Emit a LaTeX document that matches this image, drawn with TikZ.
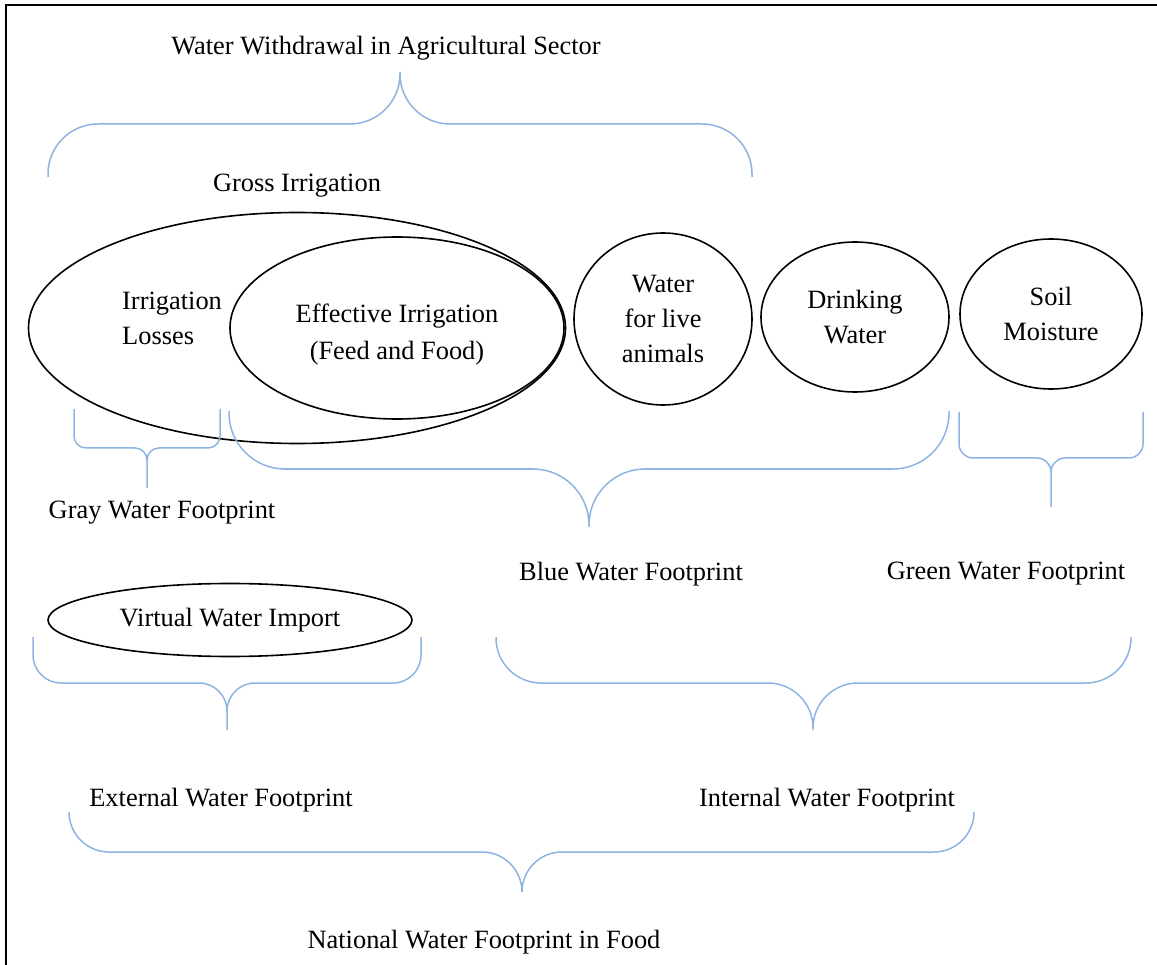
\documentclass[tikz,border=0pt]{standalone}
\usepackage{fontspec}
\setmainfont{Liberation Serif}
\usetikzlibrary{shapes.geometric,positioning}
\definecolor{bracecol}{RGB}{141,180,226}

\begin{document}
\begin{tikzpicture}[x=1pt,y=-1pt,node distance=142pt]
	\tikzstyle{txt} = [font=\fontsize{26.4}{35}\selectfont,inner sep=0pt,align=center]
	\tikzstyle{pool} = [draw,ellipse,line width=1.6pt,txt]
	\tikzstyle{curly} = [draw=bracecol,line width=1.5pt]
	\useasboundingbox (0,0) rectangle (1157,965);
	\draw[line width=2pt] (6,965) -- (6,5) -- (1157,5);

	\node (gross) [pool,minimum width=537pt,minimum height=231pt] at (297,328) {};
	\node (effective) [pool,minimum width=334pt,minimum height=182pt] at (397,328) {};
	\node (effectivetext) [txt,font=\fontsize{26.4}{37}\selectfont] at (397,335) {Effective Irrigation\\(Feed and Food)};
	\node (losses) [txt,anchor=west,align=left] at (122,318) {Irrigation\\Losses};
	\node (grosslabel) [txt,above of=gross] {Gross Irrigation};
	\node (animals) [pool,minimum width=178pt,minimum height=172pt] at (663,319) {Water\\for live\\animals};
	\node (drinking) [pool,minimum width=188pt,minimum height=150pt] at (855,317) {Drinking\\Water};
	\node (soil) [pool,minimum width=182pt,minimum height=150pt] at (1051,314) {Soil\\Moisture};
	\node (virtual) [pool,minimum width=364pt,minimum height=73pt] at (230,620) {Virtual Water Import};

	\node (withdrawal) [txt] at (386,48) {Water Withdrawal in Agricultural Sector};
	\node (gray) [txt] at (162,513) {Gray Water Footprint};
	\node (blue) [txt] at (631,574) {Blue Water Footprint};
	\node (green) [txt,right of=blue,node distance=375pt] {Green Water Footprint};
	\node (external) [txt] at (221,800) {External Water Footprint};
	\node (internal) [txt,right of=external,node distance=606pt] {Internal Water Footprint};
	\node (national) [txt] at (484,942) {National Water Footprint in Food};

	\draw[curly,rounded corners=50pt] (48,177) -- (48,124) -- (400,124) -- (400,72) (752,177) -- (752,124) -- (400,124) -- (400,72);
	\draw[curly,rounded corners=12pt] (74,409) -- (74,448) -- (147,448) -- (147,488) (220,409) -- (220,448) -- (147,448) -- (147,488);
	\draw[curly,rounded corners=56pt] (229,411) -- (229,469) -- (589,469) -- (589,527) (949,411) -- (949,469) -- (589,469) -- (589,527);
	\draw[curly,rounded corners=14pt] (959,412) -- (959,458) -- (1051,458) -- (1051,507) (1143,412) -- (1143,458) -- (1051,458) -- (1051,507);
	\draw[curly,rounded corners=28pt] (33,637) -- (33,683) -- (227,683) -- (227,730) (421,637) -- (421,683) -- (227,683) -- (227,730);
	\draw[curly,rounded corners=45pt] (496,637) -- (496,683) -- (813,683) -- (813,730) (1131,637) -- (1131,683) -- (813,683) -- (813,730);
	\draw[curly,rounded corners=40pt] (69,812) -- (69,852) -- (522,852) -- (522,892) (974,812) -- (974,852) -- (522,852) -- (522,892);
\end{tikzpicture}
\end{document}
